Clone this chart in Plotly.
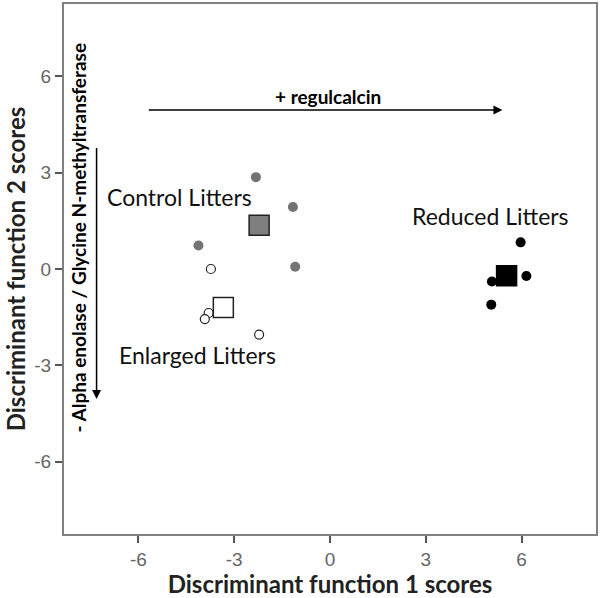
import plotly.graph_objects as go

# Data (discriminant scores)
control_x = [-2.32, -1.16, -4.12, -1.09]
control_y = [2.86, 1.93, 0.73, 0.07]
control_centroid = ([-2.22], [1.36])

enlarged_x = [-3.73, -3.80, -3.92, -2.22]
enlarged_y = [0.00, -1.37, -1.56, -2.04]
enlarged_centroid = ([-3.34], [-1.20])

reduced_x = [5.97, 6.15, 5.07, 5.05]
reduced_y = [0.83, -0.22, -0.39, -1.11]
reduced_centroid = ([5.53], [-0.21])

tick_vals = [-6, -3, 0, 3, 6]
tick_text = ["-6", "-3", "0", "3", "6"]

fig = go.Figure()

fig.add_trace(go.Scatter(x=control_x, y=control_y, mode="markers",
                         marker=dict(size=10, color="#737373", line=dict(width=0)),
                         showlegend=False))
fig.add_trace(go.Scatter(x=enlarged_x, y=enlarged_y, mode="markers",
                         marker=dict(size=9, color="white", line=dict(width=1.2, color="#222")),
                         showlegend=False))
fig.add_trace(go.Scatter(x=reduced_x, y=reduced_y, mode="markers",
                         marker=dict(size=10, color="black", line=dict(width=0)),
                         showlegend=False))
fig.add_trace(go.Scatter(x=control_centroid[0], y=control_centroid[1], mode="markers",
                         marker=dict(symbol="square", size=20, color="#7f7f7f", line=dict(width=1.5, color="#222")),
                         showlegend=False))
fig.add_trace(go.Scatter(x=enlarged_centroid[0], y=enlarged_centroid[1], mode="markers",
                         marker=dict(symbol="square", size=20, color="white", line=dict(width=1.5, color="#222")),
                         showlegend=False))
fig.add_trace(go.Scatter(x=reduced_centroid[0], y=reduced_centroid[1], mode="markers",
                         marker=dict(symbol="square", size=20, color="black", line=dict(width=1.5, color="black")),
                         showlegend=False))

label_font = dict(family="Lato", size=23, color="#111")
annotations = [
    dict(x=-4.72, y=2.23, text="Control Litters", showarrow=False, font=label_font),
    dict(x=5.02, y=1.64, text="Reduced Litters", showarrow=False, font=label_font),
    dict(x=-4.16, y=-2.69, text="Enlarged Litters", showarrow=False, font=label_font),
    # horizontal arrow
    dict(x=5.40, y=4.95, ax=-5.72, ay=4.95, xref="x", yref="y", axref="x", ayref="y",
         text="", showarrow=True, arrowhead=2, arrowsize=1.2, arrowwidth=1.5, arrowcolor="black"),
    dict(x=-0.06, y=5.38, text="<b>+ regulcalcin</b>", showarrow=False,
         font=dict(family="Lato", size=19, color="black")),
    # vertical arrow
    dict(x=-7.31, y=-4.05, ax=-7.31, ay=3.81, xref="x", yref="y", axref="x", ayref="y",
         text="", showarrow=True, arrowhead=2, arrowsize=1.2, arrowwidth=1.5, arrowcolor="black"),
    dict(x=-7.88, y=0.99, text="<b>- Alpha enolase / Glycine N-methyltransferase</b>", showarrow=False,
         textangle=-90, font=dict(family="Lato", size=19, color="black")),
]

axis_common = dict(
    showgrid=False, zeroline=False, showline=True, mirror=True,
    linecolor="#808080", linewidth=2,
    ticks="outside", ticklen=7, tickwidth=1.5, tickcolor="#555",
    tickvals=tick_vals, ticktext=tick_text,
    tickfont=dict(family="Liberation Sans", size=19, color="#666"),
)

fig.update_layout(
    width=600, height=598,
    margin=dict(l=64, r=3, t=2, b=64),
    paper_bgcolor="white", plot_bgcolor="white",
    xaxis=dict(range=[-8.33, 8.33],
               title=dict(text="<b>Discriminant function 1 scores</b>", standoff=2,
                          font=dict(family="Lato", size=24, color="#222")),
               **axis_common),
    yaxis=dict(range=[-8.25, 8.25],
               title=dict(text="<b>Discriminant function 2 scores</b>", standoff=2,
                          font=dict(family="Lato", size=24, color="#222")),
               **axis_common),
    annotations=annotations,
)

fig.write_html("out.html", config={"displayModeBar": False},
               post_script="document.body.style.margin='0';document.body.style.padding='0';")
